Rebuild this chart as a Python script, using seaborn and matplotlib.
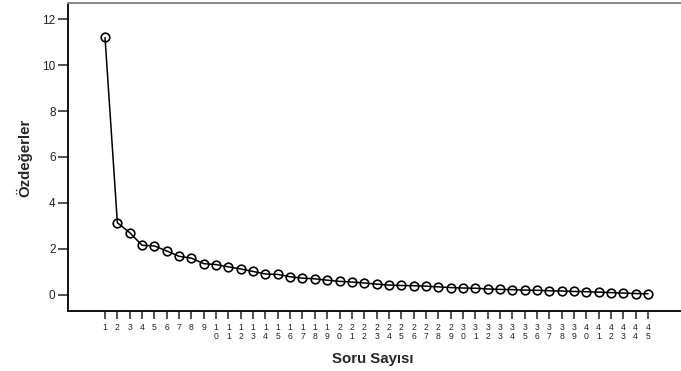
import matplotlib
matplotlib.use("Agg")
import matplotlib.pyplot as plt
import seaborn as sns
import pandas as pd

# Data
soru = list(range(1, 46))
ozdeger = [11.20, 3.14, 2.71, 2.16, 2.13, 1.91, 1.68, 1.60, 1.36, 1.32,
           1.22, 1.13, 1.02, 0.91, 0.89, 0.79, 0.73, 0.70, 0.64, 0.59,
           0.56, 0.52, 0.47, 0.43, 0.41, 0.40, 0.38, 0.35, 0.32, 0.30,
           0.29, 0.26, 0.24, 0.23, 0.21, 0.20, 0.18, 0.17, 0.15, 0.14,
           0.12, 0.10, 0.08, 0.06, 0.05]
y_ticks = [0, 2, 4, 6, 8, 10, 12]
x_label = "Soru Sayısı"
y_label = "Özdeğerler"

df = pd.DataFrame({"soru": soru, "ozdeger": ozdeger})

sns.set_theme(style="white")
plt.rcParams["font.family"] = ["Liberation Sans", "DejaVu Sans"]

fig = plt.figure(figsize=(6.81, 3.71), dpi=100)
ax = fig.add_axes([68/681, 1 - 311/371, 1 - 68/681, (311 - 3)/371])

sns.lineplot(data=df, x="soru", y="ozdeger", ax=ax, color="black",
             linewidth=1.1, marker="o", markersize=6.2,
             markerfacecolor="none", markeredgecolor="black",
             markeredgewidth=1.2)

ax.set_xlim(-2.0, 47.67)
ax.set_ylim(-0.70, 12.70)

ax.set_yticks(y_ticks)
ax.set_yticklabels([str(t) for t in y_ticks], fontsize=8.5, color="#222222")
ax.set_xticks(soru)
ax.set_xticklabels(["\n".join(str(s)) for s in soru], fontsize=6.2,
                   color="#222222", linespacing=1.05, va="top")

ax.tick_params(axis="y", direction="out", length=7, width=1.1, pad=2,
               left=True, color="#222222")
ax.tick_params(axis="x", direction="out", length=5.5, width=1.1, pad=3,
               bottom=True, color="#222222")

for side in ["left", "bottom"]:
    ax.spines[side].set_color("#111111")
    ax.spines[side].set_linewidth(1.4)
ax.spines["top"].set_color("#888888")
ax.spines["top"].set_linewidth(1.4)
ax.spines["right"].set_visible(False)

ax.set_xlabel(x_label, fontsize=10.8, fontweight="bold")
ax.set_ylabel(y_label, fontsize=10.8, fontweight="bold")
ax.xaxis.set_label_coords((373 - 68) / (681 - 68), -(352 - 311) / 308)
ax.yaxis.set_label_coords(-(68 - 32) / 613, (311 - 158) / 308)

fig.savefig("out.png", dpi=100)
